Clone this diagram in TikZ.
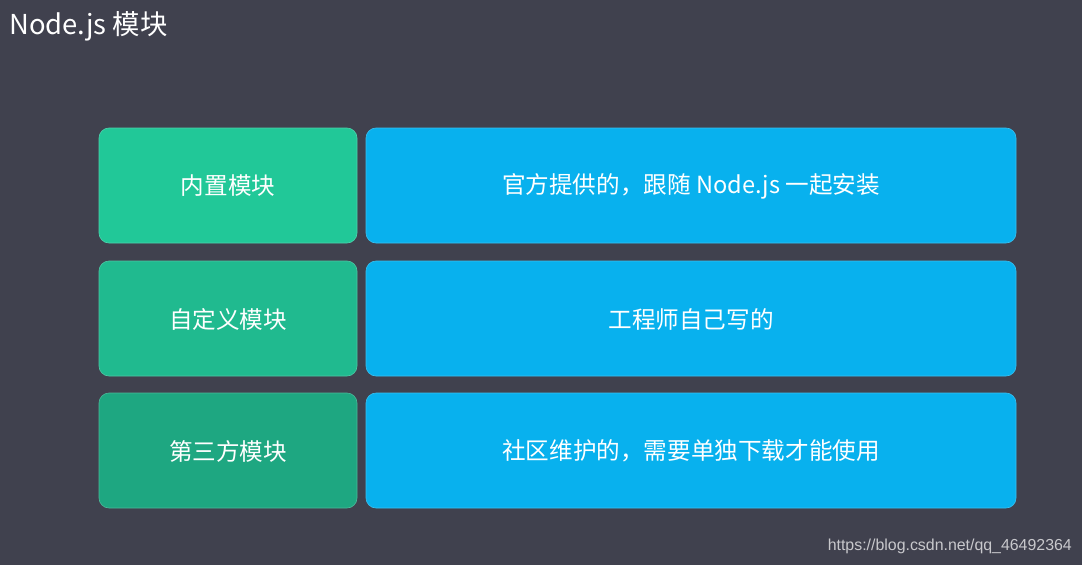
\documentclass[tikz,border=0pt]{standalone}
\usepackage{fontspec}
\setmainfont{Noto Sans CJK SC}
\newfontfamily\wmfont{Liberation Sans}
\definecolor{bg}{HTML}{40414E}
\definecolor{gA}{HTML}{21C898}
\definecolor{gB}{HTML}{20BA8F}
\definecolor{gC}{HTML}{1EA781}
\definecolor{bl}{HTML}{08B1EE}
\definecolor{wm}{HTML}{C8C8CC}
\begin{document}
\begin{tikzpicture}[x=1pt,y=-1pt,
  box/.style={rounded corners=10pt, draw=#1!80!white, line width=0.6pt, fill=#1},
  lbl/.style={text=white, font=\fontsize{23.6}{28}\selectfont, anchor=center}]
\fill[bg] (0,0) rectangle (1082,565);
\useasboundingbox (0,0) rectangle (1082,565);
\node[anchor=base west, text=white, font=\fontsize{27.4}{32}\selectfont, inner sep=0pt] (title) at (9,34) {Node.js 模块};
% row 1
\draw[box=gA] (99,128) rectangle (357,243);
\node[lbl] (l1) at (228,186) {内置模块};
\draw[box=bl] (366,128) rectangle (1016,243);
\node[lbl] (r1) at (691,186) {官方提供的，跟随 Node.js 一起安装};
% row 2
\draw[box=gB] (99,261) rectangle (357,376);
\node[lbl] (l2) at (228,319) {自定义模块};
\draw[box=bl] (366,261) rectangle (1016,376);
\node[lbl] (r2) at (691,319) {工程师自己写的};
% row 3
\draw[box=gC] (99,393) rectangle (357,508);
\node[lbl] (l3) at (228,451) {第三方模块};
\draw[box=bl] (366,393) rectangle (1016,508);
\node[lbl] (r3) at (691,451) {社区维护的，需要单独下载才能使用};
\node[anchor=base east, text=wm, font=\wmfont\fontsize{15.9}{18}\selectfont, inner sep=0pt] (wm) at (1072,550) {https://blog.csdn.net/qq\_46492364};
\end{tikzpicture}
\end{document}
